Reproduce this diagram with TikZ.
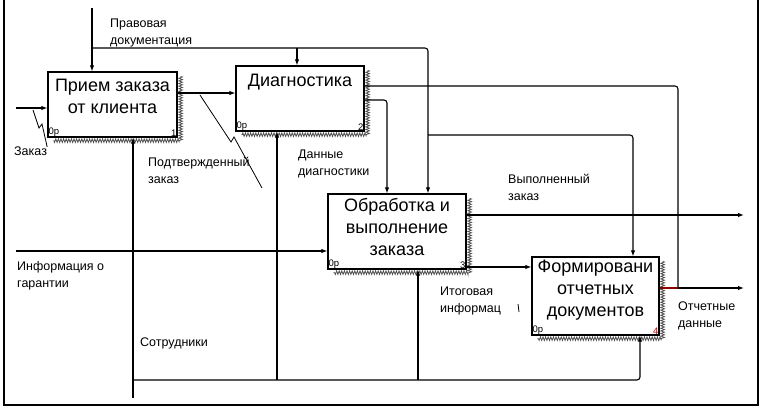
\documentclass[tikz,border=0pt]{standalone}
\usepackage{fontspec}
\setmainfont{Liberation Sans}
\usetikzlibrary{arrows.meta,decorations.pathmorphing,positioning}

\begin{document}
\begin{tikzpicture}[x=1pt, y=-1pt,
    func/.style={draw, line width=1.3pt, fill=white, inner sep=0pt},
    functext/.style={inner sep=0pt, align=center, font=\fontsize{18}{22}\selectfont},
    lab/.style={inner sep=0pt, anchor=north west, align=left, font=\fontsize{12.5}{17}\selectfont},
    tag/.style={inner sep=1pt, font=\fontsize{9.5}{9.5}\selectfont},
    conn/.style={line width=1.1pt, rounded corners=3pt, -{Latex[length=6pt,width=4.5pt]}},
    wire/.style={line width=1.1pt, rounded corners=3pt},
    squig/.style={line width=0.8pt},
    shadowzig/.style={decorate, decoration={zigzag, amplitude=1.8pt, segment length=2.6pt}, line width=0.75pt, black!70}]
  \useasboundingbox (0,0) rectangle (764,410);
  % frame
  \draw[line width=1.2pt] (4,0) -- (4,405) -- (758,405) -- (758,0);

  % function boxes
  \node[func, minimum width=129pt, minimum height=65pt] (priem) at (112.5,104.5) {};
  \node[func, minimum width=128pt, minimum height=65pt] (diag) at (300,98.5) {};
  \node[func, minimum width=138pt, minimum height=75pt] (obrab) at (397,231.5) {};
  \node[func, minimum width=127pt, minimum height=78pt] (form) at (595.5,296) {};
  \foreach \b in {priem,diag,obrab,form}
    \draw[shadowzig] ([shift={(3,5)}]\b.north east) -- ([shift={(3,3)}]\b.south east) -- ([shift={(6,3)}]\b.south west);
  \node[functext, below=8pt of priem.north] (priemt) {Прием заказа\\от клиента};
  \node[functext, below=8.5pt of diag.north] (diagt) {Диагностика};
  \node[functext, below=4.5pt of obrab.north] (obrabt) {Обработка и\\выполнение\\заказа};
  \node[functext, below=3.5pt of form.north] (formt) {Формировани\\отчетных\\документов};
  \foreach \b/\n/\c in {priem/1/black,diag/2/black,obrab/3/black,form/4/red!75!black} {
    \node[tag, anchor=south west] (\b-c) at (\b.south west) {0р};
    \node[tag, anchor=south east, text=\c] (\b-n) at (\b.south east) {\n};
  }

  % control: Правовая документация
  \coordinate (ctop) at (92,8);
  \coordinate (cj) at (92,48);
  \coordinate (cj2) at (428,135);
  \draw[conn] (ctop) -- (ctop |- priem.north);
  \draw[conn] (cj) -| ([xshift=31pt]obrab.north);
  \draw[conn] ([xshift=-3pt]diag.north |- cj) -- ([xshift=-3pt]diag.north);
  \draw[conn] (cj2) -| ([xshift=37.5pt]form.north);
  \node[lab] (pravdoc) at (110,19) {Правовая\\документация};

  % input: Заказ
  \coordinate (zin) at (16,108);
  \draw[conn] (zin) -- (zin -| priem.west);
  \node[lab] (zakaz) at (14,147) {Заказ};
  \draw[squig] (33,110) -- (39,128) -- (42,124) -- (zakaz.north east);

  % Подтвержденный заказ
  \draw[conn] ([yshift=11.5pt]priem.east) -- ([yshift=11.5pt]priem.east -| diag.west);
  \node[lab] (podtv) at (148,157) {Подтвержденный\\заказ};
  \draw[squig] (200,95) -- (231,142) -- (234,137) -- (262,188);

  % outputs of Диагностика
  \coordinate (oj) at (678,288);
  \draw[wire] ([yshift=12.5pt]diag.east) -| (oj);
  \draw[conn] ([yshift=-1.5pt]diag.east) -| ([xshift=-10pt]obrab.north);
  \node[lab] (dandiag) at (298,150) {Данные\\диагностики};

  % outputs of Обработка
  \coordinate (vzout) at (744,215);
  \draw[conn] ([yshift=16.5pt]obrab.east) -- (vzout);
  \node[lab] (vypzak) at (508,174) {Выполненный\\заказ};
  \draw[conn] ([yshift=-35.5pt]obrab.east) -- ([yshift=-35.5pt]obrab.east -| form.west);
  \node[lab] (itog) at (440,287) {Итоговая\\информац};
  \draw[squig] (518,304) -- (519,312);

  % output: Отчетные данные
  \coordinate (odout) at (744,288);
  \draw[line width=1.1pt, red!55!black] ([yshift=8pt]form.east) -- (oj);
  \draw[conn] (oj) -- (odout);
  \node[lab] (otch) at (678,302) {Отчетные\\данные};

  % input: Информация о гарантии
  \coordinate (gin) at (16,251);
  \draw[conn] (gin) -- (gin -| obrab.west);
  \node[lab] (garant) at (17,261) {Информация о\\гарантии};

  % mechanism: Сотрудники
  \coordinate (mbot) at (133,398);
  \coordinate (mj) at (133,380);
  \draw[conn] (mbot) -- (mbot |- priem.south);
  \draw[conn] (mj) -| ([xshift=44.5pt]form.south);
  \draw[conn] ([xshift=-23pt]diag.south |- mj) -- ([xshift=-23pt]diag.south);
  \draw[conn] ([xshift=21pt]obrab.south |- mj) -- ([xshift=21pt]obrab.south);
  \node[lab] (sotr) at (140,338) {Сотрудники};
\end{tikzpicture}
\end{document}
